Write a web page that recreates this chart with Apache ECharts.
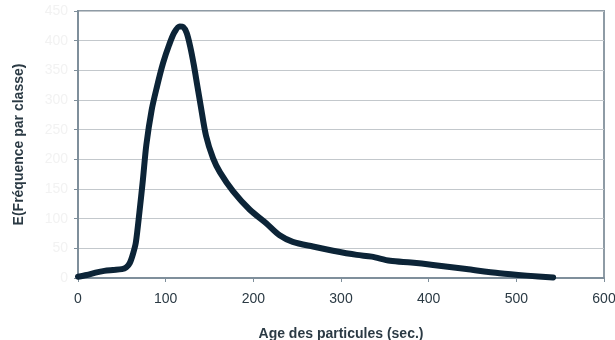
<!DOCTYPE html>
<html>
<head>
<meta charset="utf-8">
<script src="https://cdn.jsdelivr.net/npm/echarts@6/dist/echarts.min.js"></script>
<style>
  html, body { margin: 0; padding: 0; background: #ffffff; }
  #chart { width: 615px; height: 340px; }
</style>
</head>
<body>
<div id="chart"></div>
<script>
// Age of particles (s) and the associated E(t) frequency per class
const ages = [0, 10, 20, 30, 40, 50, 55, 59, 63, 66, 70, 74, 78, 84, 90, 97, 104, 110, 116, 120,
  124, 128, 132, 136, 140, 146, 154, 162, 177, 196, 215, 230, 245, 268, 291, 318, 335, 356, 380,
  405, 443, 481, 512, 542];
const freq = [2, 5, 9, 12, 13.5, 15, 18, 25, 42, 60, 110, 165, 225, 283, 322, 362, 393, 414, 424, 423,
  413, 390, 360, 325, 290, 240, 202, 178, 146, 115, 92, 72, 61, 53, 46, 39, 36, 29, 26,
  22, 15, 8, 4, 1];
const xTicks = { min: 0, max: 600, step: 100 };
const yTicks = { min: 0, max: 450, step: 50 };

const points = ages.map((a, i) => [a, freq[i]]);

const chart = echarts.init(document.getElementById('chart'), null, { renderer: 'canvas' });
chart.setOption({
  animation: false,
  backgroundColor: '#ffffff',
  grid: {
    left: 78, right: 11, top: 11, bottom: 62,
    outerBoundsMode: 'none',
    containLabel: false,
    show: true, borderColor: '#8e9ba5', borderWidth: 2, backgroundColor: 'transparent'
  },
  xAxis: {
    type: 'value',
    min: xTicks.min, max: xTicks.max, interval: xTicks.step,
    name: 'Age des particules (sec.)',
    nameLocation: 'middle',
    nameGap: 49,
    nameTextStyle: { fontFamily: 'Liberation Sans', fontSize: 14, fontWeight: 'bold', color: '#2b3a44' },
    axisLine: { show: true, lineStyle: { color: '#7f8f9b', width: 2 } },
    axisTick: { show: true, length: 4, lineStyle: { color: '#7f8f9b' } },
    axisLabel: { margin: 14, fontFamily: 'Liberation Sans', fontSize: 14, color: '#2b3a44' },
    splitLine: { show: false }
  },
  yAxis: {
    type: 'value',
    min: yTicks.min, max: yTicks.max, interval: yTicks.step,
    name: 'E(Fréquence par classe)',
    nameLocation: 'middle',
    nameGap: 52,
    nameRotate: 90,
    nameTextStyle: { fontFamily: 'Liberation Sans', fontSize: 14, fontWeight: 'bold', color: '#2b3a44' },
    axisLine: { show: true, lineStyle: { color: '#7f8f9b', width: 2 } },
    axisTick: { show: true, length: 4, lineStyle: { color: '#7f8f9b' } },
    axisLabel: { margin: 10, fontFamily: 'Liberation Sans', fontSize: 14, color: '#f2f2f2' },
    splitLine: { show: true, lineStyle: { color: '#c3c8cc', width: 1 } }
  },
  series: [{
    type: 'line',
    data: points,
    smooth: 0.3,
    showSymbol: false,
    lineStyle: { color: '#0c2437', width: 6, cap: 'round', join: 'round' }
  }]
});
</script>
</body>
</html>
